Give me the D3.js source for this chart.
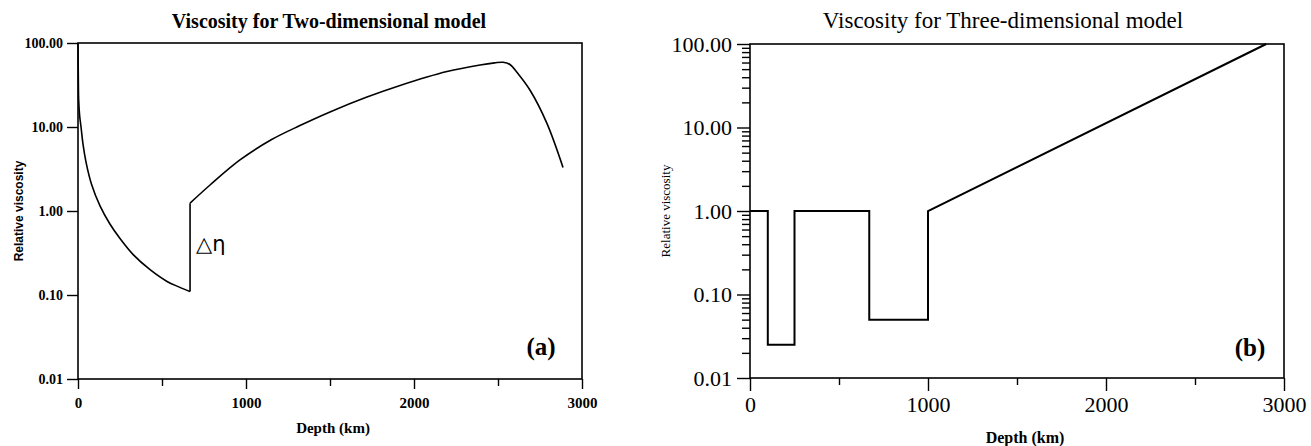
<!DOCTYPE html>
<html>
<script src="https://d3js.org/d3.v7.min.js"></script>

<head>
    <style>
        body {
            margin: 0;
            background-color: #ffffff;
        }

        svg {
            display: block;
        }
    </style>
</head>

<body>
</body>
<script>
    const width = 1311,
        height = 446;

    // depth (km) vs relative viscosity
    const upperMantle2D = [
        [0, 100], [1, 60], [2, 38], [4, 21], [10, 13.5], [18, 10], [30, 6.2], [48, 3.8], [80, 2.1],
        [131, 1.15], [190, 0.7], [250, 0.47], [330, 0.3], [429, 0.2], [530, 0.145], [600, 0.125], [667, 0.11]
    ];
    const lowerMantle2D = [
        [667, 1.24], [786, 2.04], [964, 4.05], [1150, 7.05], [1321, 10.4], [1500, 15.1], [1720, 22.7],
        [1917, 31.2], [2196, 45.7], [2393, 54.8], [2480, 58], [2530, 59], [2571, 55.5], [2620, 43],
        [2690, 27.6], [2790, 11.2], [2887, 3.3]
    ];
    const steps3D = [
        [0, 1], [100, 1], [100, 0.025], [250, 0.025], [250, 1], [670, 1], [670, 0.05],
        [1000, 0.05], [1000, 1], [2900, 100]
    ];

    const yTicks = [0.01, 0.1, 1, 10, 100];
    const yMinor = [2, 3, 4, 5, 6, 7, 8, 9].flatMap(m => [0.01, 0.1, 1, 10].map(d => m * d));
    const xTicks = [0, 1000, 2000, 3000];
    const xMinor = [500, 1500, 2500];

    const svg = d3.select("body").append("svg").attr("width", width).attr("height", height);

    function drawPanel(p) {
        const x = d3.scaleLinear().domain([0, 3000]).range(p.xRange);
        const y = d3.scaleLog().domain([0.01, 100]).range(p.yRange);
        const g = svg.append("g");

        // minor ticks
        const xm = g.append("g").attr("transform", `translate(0,${p.yRange[0]})`)
            .call(d3.axisBottom(x).tickValues(xMinor).tickSize(p.minorX).tickSizeOuter(0).tickFormat(""));
        xm.select(".domain").remove();
        if (p.yMinor) {
            const ym = g.append("g").attr("transform", `translate(${p.xRange[0]},0)`)
                .call(d3.axisLeft(y).tickValues(yMinor).tickSize(p.minorY).tickSizeOuter(0).tickFormat(""));
            ym.select(".domain").remove();
        }

        const xa = g.append("g").attr("transform", `translate(0,${p.yRange[0]})`)
            .call(d3.axisBottom(x).tickValues(xTicks).tickSize(p.majorX).tickSizeOuter(0)
                .tickPadding(p.xPad).tickFormat(d3.format("d")));
        const ya = g.append("g").attr("transform", `translate(${p.xRange[0]},0)`)
            .call(d3.axisLeft(y).tickValues(yTicks).tickSize(p.majorY).tickSizeOuter(0)
                .tickPadding(p.yPad).tickFormat(d3.format(".2f")));
        [xa, ya].forEach(a => {
            a.select(".domain").remove();
            a.selectAll("text").attr("font-family", "Liberation Serif, serif")
                .attr("font-weight", p.tickWeight).attr("fill", "#000");
        });
        xa.selectAll("text").attr("font-size", p.xFont);
        ya.selectAll("text").attr("font-size", p.yFont).attr("dy", "0.34em");
        g.selectAll(".tick line").attr("stroke", "#000").attr("stroke-width", 1.4);

        // frame
        g.append("rect")
            .attr("x", p.xRange[0]).attr("y", p.yRange[1])
            .attr("width", p.xRange[1] - p.xRange[0]).attr("height", p.yRange[0] - p.yRange[1])
            .attr("fill", "none").attr("stroke", "#000").attr("stroke-width", 1.6);

        const line = d3.line().x(d => x(d[0])).y(d => y(d[1]));
        p.series.forEach(s => {
            g.append("path").datum(s.data)
                .attr("d", line.curve(s.curve)(s.data))
                .attr("fill", "none").attr("stroke", "#000").attr("stroke-width", p.lineWidth);
        });

        g.append("text")
            .attr("x", p.titleX).attr("y", 28)
            .attr("text-anchor", "middle")
            .attr("font-family", "Liberation Serif, serif").attr("font-weight", p.titleWeight)
            .attr("font-size", p.titleFont).text(p.title);
        g.append("text")
            .attr("x", p.xLabelX).attr("y", p.xLabelY)
            .attr("text-anchor", "middle")
            .attr("font-family", "Liberation Serif, serif").attr("font-weight", "bold")
            .attr("font-size", p.xLabelFont).text("Depth (km)");
        g.append("text")
            .attr("transform", `translate(${p.yLabelX},${y(1)}) rotate(-90)`)
            .attr("text-anchor", "middle")
            .attr("font-family", p.yLabelFamily).attr("font-weight", p.yLabelWeight)
            .attr("font-size", p.yLabelFont).text("Relative viscosity");
        g.append("text")
            .attr("x", p.tagX).attr("y", p.tagY)
            .attr("text-anchor", "middle")
            .attr("font-family", "Liberation Serif, serif").attr("font-weight", "bold")
            .attr("font-size", 25).text(p.tag);
        return { g, x, y };
    }

    const left = drawPanel({
        xRange: [78, 582], yRange: [379, 43],
        majorX: 10, minorX: 7, majorY: 11, minorY: 0, yMinor: false,
        xPad: 8, yPad: 4, tickWeight: "bold", xFont: 15, yFont: 14,
        title: "Viscosity for Two-dimensional model", titleX: 329, titleWeight: "bold", titleFont: 20,
        xLabelX: 333, xLabelY: 433, xLabelFont: 15,
        yLabelX: 23, yLabelFamily: "Liberation Sans, Arial, sans-serif", yLabelWeight: "bold", yLabelFont: 12,
        tag: "(a)", tagX: 541, tagY: 355, lineWidth: 1.6,
        series: [
            { data: upperMantle2D, curve: d3.curveCatmullRom.alpha(0.5) },
            { data: [upperMantle2D[upperMantle2D.length - 1], lowerMantle2D[0]], curve: d3.curveLinear },
            { data: lowerMantle2D, curve: d3.curveCatmullRom.alpha(0.5) }
        ]
    });

    // viscosity jump label at 670 km
    left.g.append("text")
        .attr("x", left.x(667) + 6).attr("y", left.y(0.33))
        .attr("font-family", "DejaVu Sans, sans-serif")
        .attr("font-size", 21)
        .text("△η");

    const right = drawPanel({
        xRange: [750, 1284], yRange: [378, 44],
        majorX: 13, minorX: 7, majorY: 13, minorY: 8, yMinor: true,
        xPad: 5, yPad: 5, tickWeight: "normal", xFont: 22, yFont: 22,
        title: "Viscosity for Three-dimensional model", titleX: 1003, titleWeight: "normal", titleFont: 23,
        xLabelX: 1025, xLabelY: 443, xLabelFont: 16,
        yLabelX: 670, yLabelFamily: "Liberation Serif, serif", yLabelWeight: "normal", yLabelFont: 13,
        tag: "(b)", tagX: 1250, tagY: 356, lineWidth: 2,
        series: [
            { data: steps3D, curve: d3.curveLinear }
        ]
    });
</script>

</html>
